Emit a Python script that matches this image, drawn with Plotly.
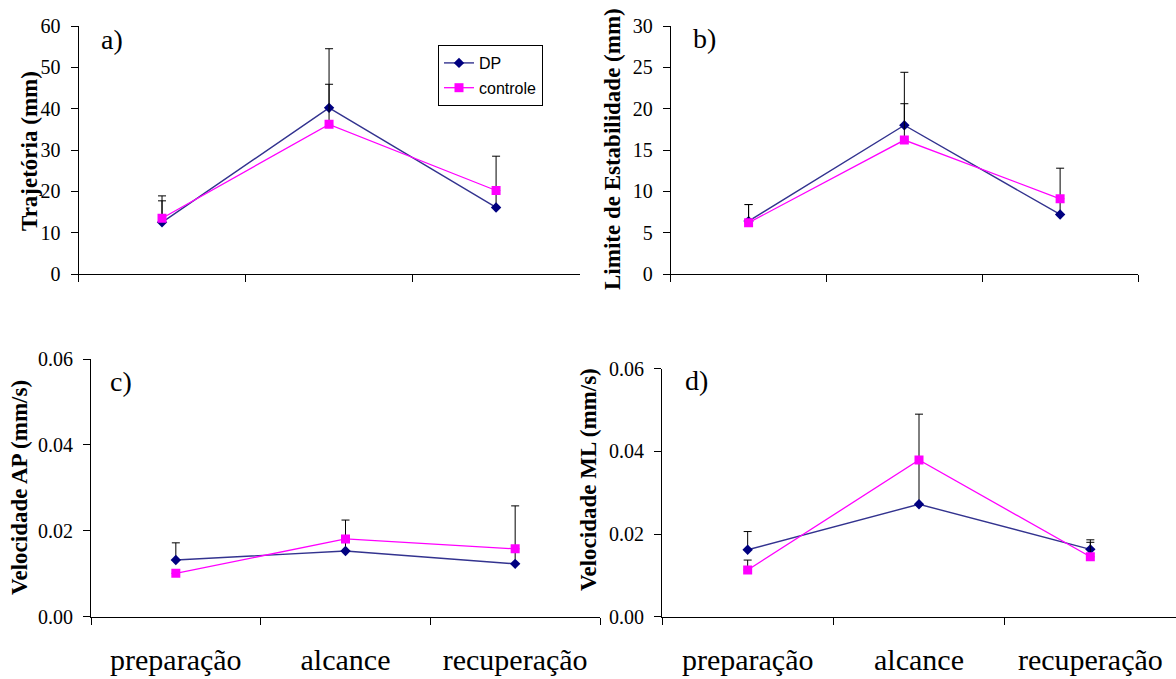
import plotly.graph_objects as go

W, H = 1176, 679

categories = ["preparação", "alcance", "recuperação"]

# a) Trajetória (mm)
traj_dp = [12.5, 40.2, 16.1]
traj_dp_err = [6.4, 14.3, 12.4]
traj_ctrl = [13.5, 36.2, 20.2]
traj_ctrl_err = [4.2, 9.7, 0.0]

# b) Limite de Estabilidade (mm)
lim_dp = [6.4, 18.0, 7.2]
lim_dp_err = [2.0, 6.4, 5.6]
lim_ctrl = [6.2, 16.2, 9.1]
lim_ctrl_err = [2.2, 4.4, 0.0]

# c) Velocidade AP (mm/s)
vap_dp = [0.0132, 0.0153, 0.0123]
vap_dp_err = [0.0040, 0.0072, 0.0135]
vap_ctrl = [0.0101, 0.0181, 0.0158]
vap_ctrl_err = [0.0, 0.0, 0.0]

# d) Velocidade ML (mm/s)
vml_dp = [0.0162, 0.0272, 0.0163]
vml_dp_err = [0.0044, 0.0218, 0.0023]
vml_ctrl = [0.0113, 0.0379, 0.0145]
vml_ctrl_err = [0.0024, 0.0, 0.0035]

panels = [
    ("x", "y", traj_dp, traj_dp_err, traj_ctrl, traj_ctrl_err, True),
    ("x2", "y2", lim_dp, lim_dp_err, lim_ctrl, lim_ctrl_err, False),
    ("x3", "y3", vap_dp, vap_dp_err, vap_ctrl, vap_ctrl_err, False),
    ("x4", "y4", vml_dp, vml_dp_err, vml_ctrl, vml_ctrl_err, False),
]

DP_LINE = "#33338f"
DP_MARK = "#000080"
CT = "#ff00ff"
SERIF = "Liberation Serif"

fig = go.Figure()
for xa, ya, dp, dpe, ct, cte, leg in panels:
    fig.add_trace(go.Scatter(
        x=categories, y=dp, xaxis=xa, yaxis=ya, name="DP", legendgroup="DP",
        showlegend=leg, mode="lines+markers",
        line=dict(color=DP_LINE, width=1.4),
        marker=dict(symbol="diamond", size=8, color=DP_MARK),
        error_y=dict(type="data", array=dpe, arrayminus=[0] * 3, symmetric=False,
                     color="black", thickness=1, width=4),
    ))
    fig.add_trace(go.Scatter(
        x=categories, y=ct, xaxis=xa, yaxis=ya, name="controle", legendgroup="controle",
        showlegend=leg, mode="lines+markers",
        line=dict(color=CT, width=1.3),
        marker=dict(symbol="square", size=9, color=CT),
        error_y=dict(type="data", array=cte, arrayminus=[0] * 3, symmetric=False,
                     color="black", thickness=1, width=4),
    ))


def px_x(a, b):
    return [a / W, min(b / W, 1.0)]


def px_y(bottom, top):
    return [1 - bottom / H, 1 - top / H]


def xaxis(dom, anchor, labels):
    return dict(
        domain=dom, anchor=anchor, type="category", categoryorder="array",
        categoryarray=categories, range=[-0.5, 2.5], tickson="boundaries",
        ticks="outside", ticklen=7, tickcolor="black", showline=True,
        linecolor="black", linewidth=1, showgrid=False, zeroline=False,
        showticklabels=labels, ticklabelstandoff=16, automargin=False,
        tickfont=dict(family=SERIF, size=30, color="black"),
    )


def yaxis(dom, anchor, rng, vals, fmt=None):
    d = dict(
        domain=dom, anchor=anchor, range=rng, tickvals=vals,
        ticks="outside", ticklen=7, tickcolor="black", showline=True,
        linecolor="black", linewidth=1, showgrid=False, zeroline=False,
        automargin=False, ticklabelstandoff=6,
        tickfont=dict(family=SERIF, size=20, color="black"),
    )
    if fmt:
        d["tickformat"] = fmt
    return d


top_y = px_y(274, 26)
fig.update_layout(
    width=W, height=H, margin=dict(l=0, r=0, t=0, b=0, autoexpand=False),
    paper_bgcolor="white", plot_bgcolor="white",
    xaxis=xaxis(px_x(78.5, 579.6), "y", False),
    xaxis2=xaxis(px_x(670.7, 1138), "y2", False),
    xaxis3=xaxis(px_x(91, 600), "y3", True),
    xaxis4=xaxis(px_x(662, 1176), "y4", True),
    yaxis=yaxis(top_y, "x", [0, 60], [0, 10, 20, 30, 40, 50, 60]),
    yaxis2=yaxis(top_y, "x2", [0, 30], [0, 5, 10, 15, 20, 25, 30]),
    yaxis3=yaxis(px_y(616.7, 359), "x3", [0, 0.06], [0, 0.02, 0.04, 0.06], ".2f"),
    yaxis4=yaxis(px_y(616.7, 368.7), "x4", [0, 0.06], [0, 0.02, 0.04, 0.06], ".2f"),
    legend=dict(
        x=438 / W, y=1 - 45 / H, xanchor="left", yanchor="top",
        bordercolor="black", borderwidth=1, bgcolor="white",
        font=dict(family="Liberation Sans", size=16, color="black"),
        traceorder="grouped", tracegroupgap=1,
    ),
)

annots = [
    ("a)", 112, 39, 28, 0),
    ("b)", 704, 38, 28, 0),
    ("c)", 121, 381, 28, 0),
    ("d)", 696, 380, 28, 0),
    ("<b>Trajetória (mm)</b>", 29, 151, 23, -90),
    ("<b>Limite de Estabilidade (mm)</b>", 612, 149, 23, -90),
    ("<b>Velocidade AP (mm/s)</b>", 19, 488, 23, -90),
    ("<b>Velocidade ML (mm/s)</b>", 588, 480, 23, -90),
]
for txt, x, y, size, ang in annots:
    fig.add_annotation(
        text=txt, x=x / W, y=1 - y / H, xref="paper", yref="paper",
        xanchor="center", yanchor="middle", showarrow=False, textangle=ang,
        font=dict(family=SERIF, size=size, color="black"),
    )

fig.write_html("out.html")
